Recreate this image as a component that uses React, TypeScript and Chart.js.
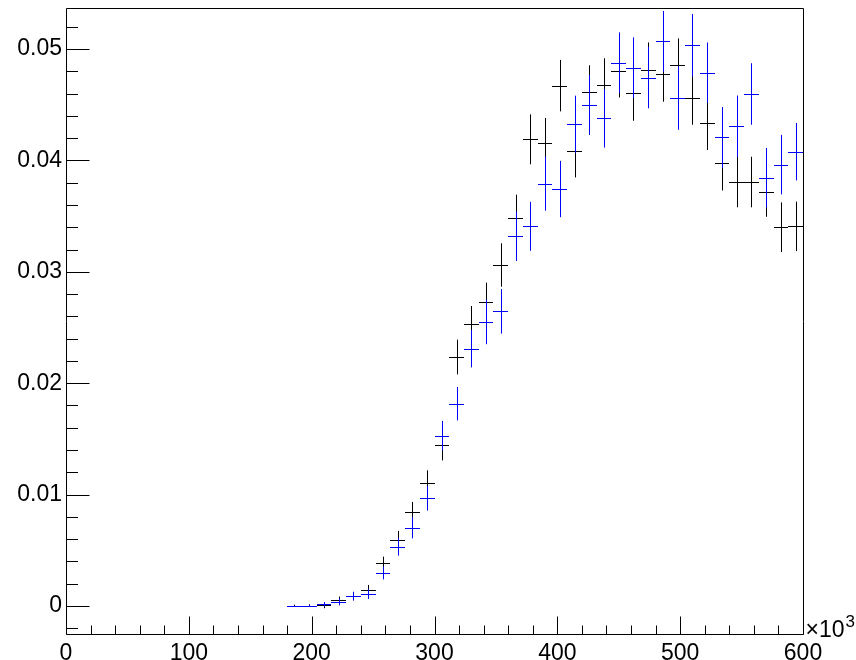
import React, { useEffect, useRef } from 'react';
import { Chart, registerables } from 'chart.js';

Chart.register(...registerables);

// ---- data (bin centres in units of 10^3, bin width 12) ----
const binCenters = [
  186, 198, 210, 222, 234, 246, 258, 270, 282, 294, 306, 318,
  330, 342, 354, 366, 378, 390, 402, 414, 426, 438, 450, 462,
  474, 486, 498, 510, 522, 534, 546, 558, 570, 582, 594,
];
const binWidth = 12;

const blackValues = [
  0.00002, 0.00003, 0.00005, 0.00055, 0.0009, 0.00141, 0.00389, 0.0059, 0.00841, 0.01104, 0.01448, 0.02235,
  0.02534, 0.02726, 0.03061, 0.0348, 0.04189, 0.04159, 0.04671, 0.04087, 0.04617, 0.04677, 0.04805, 0.04605,
  0.04814, 0.04778, 0.04859, 0.0456, 0.04333, 0.03979, 0.03806, 0.03806, 0.03716, 0.034, 0.03408,
];
const blackErrors = [
  0.0001, 0.00012, 0.00025, 0.0003, 0.00035, 0.00048, 0.00054, 0.00084, 0.00093, 0.00114, 0.00141, 0.00156,
  0.00159, 0.00177, 0.00195, 0.00213, 0.00224, 0.00222, 0.00231, 0.0024, 0.00237, 0.0024, 0.0024, 0.00249,
  0.00245, 0.00251, 0.00236, 0.0024, 0.0024, 0.00249, 0.00227, 0.00227, 0.00222, 0.00223, 0.00222,
];
const blueValues = [
  0.0, 0.00002, 0.00015, 0.00036, 0.00088, 0.00108, 0.00296, 0.00532, 0.00703, 0.00967, 0.01529, 0.01816,
  0.0231, 0.0255, 0.02645, 0.03319, 0.03408, 0.03791, 0.03743, 0.04324, 0.04497, 0.04378, 0.04877, 0.04832,
  0.04743, 0.05069, 0.0456, 0.05033, 0.04787, 0.04207, 0.04306, 0.04596, 0.03845, 0.03962, 0.04078,
];
const blueErrors = [
  0.00005, 0.0001, 0.0002, 0.0003, 0.0004, 0.00045, 0.00057, 0.0008, 0.00096, 0.0011, 0.00132, 0.0015,
  0.00168, 0.002, 0.002, 0.00222, 0.0022, 0.00242, 0.00253, 0.00257, 0.00269, 0.00263, 0.00272, 0.00272,
  0.00276, 0.00272, 0.00285, 0.00281, 0.00272, 0.00272, 0.00276, 0.00276, 0.00267, 0.00267, 0.00258,
];

const yTickValues = [0, 0.01, 0.02, 0.03, 0.04, 0.05];
const yTickLabels = ['0', '0.01', '0.02', '0.03', '0.04', '0.05'];
const xTickValues = [0, 100, 200, 300, 400, 500, 600];
const xTickLabels = ['0', '100', '200', '300', '400', '500', '600'];
const xExponentBase = '\u00d710';
const xExponent = '3';

const yMin = -0.002513;
const yMax = 0.05368;
const xMin = 0;
const xMax = 600;
const yMinorStep = 0.002;
const xMinorStep = 20;

const FONT = '"Liberation Sans", Arial, Helvetica, sans-serif';

const errorBarsPlugin = {
  id: 'rootStyle',
  afterDatasetsDraw(chart: any) {
    const ctx = chart.ctx;
    const xs = chart.scales.x;
    const ys = chart.scales.y;
    const area = chart.chartArea;
    ctx.save();
    ctx.beginPath();
    ctx.rect(area.left, area.top, area.right - area.left + 1, area.bottom - area.top);
    ctx.clip();
    chart.data.datasets.forEach((ds: any) => {
      ctx.strokeStyle = ds.borderColor;
      ctx.lineWidth = 1;
      ctx.beginPath();
      ds.data.forEach((p: any, i: number) => {
        const e = ds.errors[i];
        const x0 = xs.getPixelForValue(p.x - binWidth / 2);
        const x1 = xs.getPixelForValue(p.x + binWidth / 2);
        const xc = Math.round(xs.getPixelForValue(p.x)) + 0.5;
        const yc = Math.round(ys.getPixelForValue(p.y)) + 0.5;
        const yt = ys.getPixelForValue(p.y + e);
        const yb = ys.getPixelForValue(p.y - e);
        ctx.moveTo(Math.round(x0), yc);
        ctx.lineTo(Math.round(x1), yc);
        ctx.moveTo(xc, yt);
        ctx.lineTo(xc, yb);
      });
      ctx.stroke();
    });
    ctx.restore();
  },
  afterDraw(chart: any) {
    const ctx = chart.ctx;
    const xs = chart.scales.x;
    const ys = chart.scales.y;
    const a = chart.chartArea;
    const L = Math.round(a.left) + 0.5;
    const R = Math.round(a.right) + 0.5;
    const T = Math.round(a.top) + 0.5;
    const B = Math.round(a.bottom) + 0.5;
    ctx.save();
    ctx.strokeStyle = '#000';
    ctx.lineWidth = 1;
    ctx.beginPath();
    ctx.rect(L, T, R - L, B - T);
    // y ticks
    const nY = Math.round((yMax - yMin) / yMinorStep) + 2;
    const startY = Math.ceil(yMin / yMinorStep);
    for (let k = startY; k < startY + nY; k++) {
      const v = k * yMinorStep;
      if (v > yMax) break;
      const py = Math.round(ys.getPixelForValue(v)) + 0.5;
      const major = k % 5 === 0;
      ctx.moveTo(L, py);
      ctx.lineTo(L + (major ? 23 : 11.5), py);
    }
    // x ticks
    for (let v = xMin; v <= xMax; v += xMinorStep) {
      const px = Math.round(xs.getPixelForValue(v)) + 0.5;
      const major = v % 100 === 0;
      ctx.moveTo(px, B);
      ctx.lineTo(px, B - (major ? 18 : 9));
    }
    ctx.stroke();
    // exponent label
    ctx.fillStyle = '#000';
    ctx.textBaseline = 'alphabetic';
    ctx.textAlign = 'left';
    ctx.font = `23px ${FONT}`;
    const ex = R + 2;
    ctx.fillText(xExponentBase, ex, B + 2);
    const w = ctx.measureText(xExponentBase).width;
    ctx.font = `17px ${FONT}`;
    ctx.fillText(xExponent, ex + w + 1, B - 8);
    ctx.restore();
  },
};

export default function App() {
  const ref = useRef<HTMLCanvasElement | null>(null);
  useEffect(() => {
    document.body.style.margin = '0';
    const canvas = ref.current;
    if (!canvas) return;
    const chart = new Chart(canvas, {
      type: 'scatter',
      data: {
        datasets: [
          {
            label: 'black',
            data: binCenters.map((x, i) => ({ x, y: blackValues[i] })),
            errors: blackErrors,
            borderColor: '#000000',
            backgroundColor: '#000000',
            pointRadius: 0,
            showLine: false,
          } as any,
          {
            label: 'blue',
            data: binCenters.map((x, i) => ({ x, y: blueValues[i] })),
            errors: blueErrors,
            borderColor: '#0000ff',
            backgroundColor: '#0000ff',
            pointRadius: 0,
            showLine: false,
          } as any,
        ],
      },
      options: {
        responsive: false,
        animation: false,
        devicePixelRatio: 1,
        layout: { padding: { left: 0, top: 8, right: 53, bottom: 0 } },
        plugins: { legend: { display: false }, tooltip: { enabled: false }, title: { display: false } },
        events: [],
        scales: {
          x: {
            type: 'linear',
            min: xMin,
            max: xMax,
            grid: { display: false, drawTicks: false },
            border: { display: false },
            afterBuildTicks: (s: any) => {
              s.ticks = xTickValues.map((v) => ({ value: v }));
            },
            afterFit: (s: any) => {
              s.height = 26;
              s.paddingLeft = 0;
              s.paddingRight = 0;
            },
            ticks: {
              autoSkip: false,
              maxRotation: 0,
              padding: 6,
              color: '#000',
              font: { family: FONT, size: 23 },
              callback: (_v: any, i: number) => xTickLabels[i],
            },
          },
          y: {
            type: 'linear',
            min: yMin,
            max: yMax,
            grid: { display: false, drawTicks: false },
            border: { display: false },
            afterBuildTicks: (s: any) => {
              s.ticks = yTickValues.map((v) => ({ value: v }));
            },
            afterFit: (s: any) => {
              s.width = 66;
              s.paddingTop = 0;
              s.paddingBottom = 0;
            },
            ticks: {
              autoSkip: false,
              padding: 4,
              color: '#000',
              font: { family: FONT, size: 23 },
              callback: (_v: any, i: number) => yTickLabels[i],
            },
          },
        },
      },
      plugins: [errorBarsPlugin],
    } as any);
    return () => chart.destroy();
  }, []);
  return (
    <div style={{ position: 'absolute', left: 0, top: 0, width: 856, height: 660 }}>
      <canvas ref={ref} width={856} height={660} style={{ width: 856, height: 660, display: 'block' }} />
    </div>
  );
}
